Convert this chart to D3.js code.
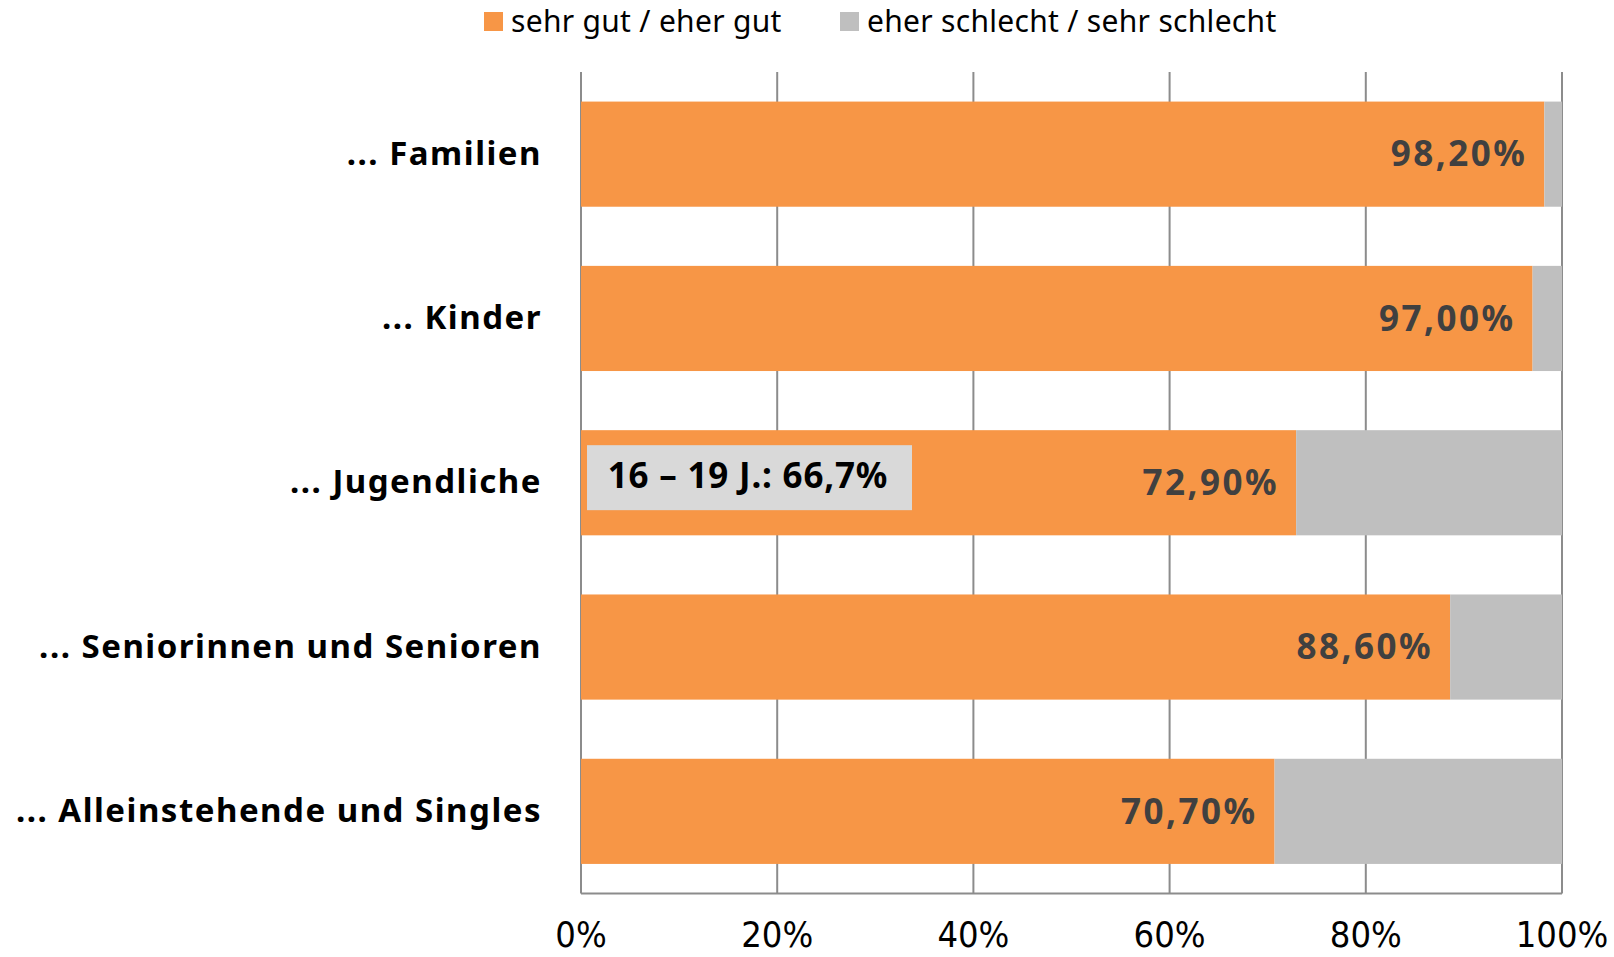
<html>
<head>
    <style>
        body { margin: 0; background: #fff; }
    </style>
    <script src="https://d3js.org/d3.v7.min.js"></script>
</head>
<body>
    <svg width=1614 height=957></svg>
</body>
<script>

    // values
    const categories = ["... Familien", "... Kinder", "... Jugendliche", "... Seniorinnen und Senioren", "... Alleinstehende und Singles"];
    const gut = [98.2, 97.0, 72.9, 88.6, 70.7];
    const schlecht = [1.8, 3.0, 27.1, 11.4, 29.3];
    const valueLabels = ["98,20%", "97,00%", "72,90%", "88,60%", "70,70%"];
    const seriesNames = ["sehr gut / eher gut", "eher schlecht / sehr schlecht"];
    const tickValues = [0, 20, 40, 60, 80, 100];
    const note = "16 – 19 J.: 66,7%";

    const colors = ["#f79646", "#bfbfbf"];

    const svg = d3.select("svg");

    const x = d3.scaleLinear()
        .domain([0, 100])
        .range([581, 1562]);

    const y = d3.scaleBand()
        .domain(categories)
        .range([72, 893.5])
        .paddingInner(0.36)
        .paddingOuter(0.18);

    // stack the two series
    const rows = categories.map((c, i) => ({ cat: c, gut: gut[i], schlecht: schlecht[i] }));
    const stacked = d3.stack().keys(["gut", "schlecht"])(rows);

    // gridlines
    svg.append("g")
        .selectAll("line")
        .data(tickValues)
        .join("line")
            .attr("x1", d => x(d))
            .attr("x2", d => x(d))
            .attr("y1", 72)
            .attr("y2", 893.5)
            .attr("stroke", "#8c8c8c")
            .attr("stroke-width", 2);

    svg.append("g")
        .selectAll("g")
        .data(stacked)
        .join("g")
            .attr("fill", (d, i) => colors[i])
        .selectAll("rect")
        .data(d => d)
        .join("rect")
            .attr("x", d => x(d[0]))
            .attr("width", d => x(d[1]) - x(d[0]))
            .attr("y", d => y(d.data.cat))
            .attr("height", y.bandwidth());

    // bottom axis line
    svg.append("line")
        .attr("x1", x(0))
        .attr("x2", x(100))
        .attr("y1", 893.5)
        .attr("y2", 893.5)
        .attr("stroke", "#8c8c8c")
        .attr("stroke-width", 2);

    // tick labels
    svg.append("g")
        .selectAll("text")
        .data(tickValues)
        .join("text")
            .attr("x", d => x(d))
            .attr("y", 947)
            .attr("text-anchor", "middle")
            .style("font", "300 36px 'Liberation Sans Narrow', 'DejaVu Sans Condensed', sans-serif")
            .attr("fill", "#000")
            .text(d => d + "%");

    // category labels
    svg.append("g")
        .selectAll("text")
        .data(categories)
        .join("text")
            .attr("x", 542)
            .attr("y", d => y(d) + y.bandwidth() / 2 - 1)
            .attr("dy", "0.35em")
            .attr("text-anchor", "end")
            .style("font", "bold 33px 'Noto Sans', sans-serif")
            .style("letter-spacing", "1.5px")
            .attr("fill", "#000")
            .text(d => d);

    // value labels
    svg.append("g")
        .selectAll("text")
        .data(rows)
        .join("text")
            .attr("x", d => x(d.gut) - 17)
            .attr("y", d => y(d.cat) + y.bandwidth() / 2)
            .attr("dy", "0.35em")
            .attr("text-anchor", "end")
            .style("font", "bold 35px 'Noto Sans', sans-serif")
            .style("letter-spacing", "2.5px")
            .attr("fill", "#404040")
            .text((d, i) => valueLabels[i]);

    // annotation box on Jugendliche
    const ny = y(categories[2]);
    svg.append("rect")
        .attr("x", 587)
        .attr("y", ny + 15)
        .attr("width", 325)
        .attr("height", 65)
        .attr("fill", "#d9d9d9");
    svg.append("text")
        .attr("x", 748)
        .attr("y", ny + 46)
        .attr("dy", "0.35em")
        .attr("text-anchor", "middle")
        .style("font", "bold 35px 'Noto Sans', sans-serif")
        .style("letter-spacing", "0.8px")
        .attr("fill", "#000")
        .text(note);

    // legend
    const legendX = [484, 840];
    const legend = svg.append("g")
        .selectAll("g")
        .data(seriesNames)
        .join("g")
            .attr("transform", (d, i) => `translate(${legendX[i]},12)`);
    legend.append("rect")
        .attr("width", 19)
        .attr("height", 19)
        .attr("fill", (d, i) => colors[i]);
    legend.append("text")
        .attr("x", 27)
        .attr("y", 9)
        .attr("dy", "0.35em")
        .style("font", "30px 'Noto Sans', sans-serif")
        .style("letter-spacing", "0.3px")
        .attr("fill", "#000")
        .text(d => d);

</script>
</html>
